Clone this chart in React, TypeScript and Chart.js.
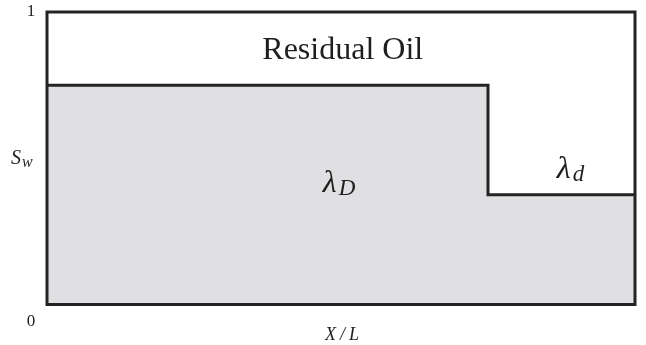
import React, { useEffect, useRef } from "react";
import { Chart, registerables } from "chart.js";

Chart.register(...registerables);

// Water saturation profile along the core (normalised length X/L)
const positions = [0, 0.75, 1];
const saturation = [0.75, 0.375, 0.375];
const axisTicks = ["0", "1"];

const INK = "#232323";
const FILL = "#e0e0e2";
const SERIF = '"Liberation Serif", "Times New Roman", serif';

const labelsPlugin = {
  id: "profileLabels",
  afterDatasetsDraw(chart: any) {
    const { ctx, chartArea: ca, scales } = chart;
    const xs = scales.x;
    const ys = scales.y;
    ctx.save();

    // frame around the plot area
    ctx.strokeStyle = INK;
    ctx.lineWidth = 3;
    ctx.strokeRect(ca.left, ca.top, ca.right - ca.left, ca.bottom - ca.top);

    ctx.fillStyle = "#1e1e1e";
    ctx.textBaseline = "alphabetic";

    // y-axis end labels
    ctx.font = `17px ${SERIF}`;
    ctx.textAlign = "center";
    ctx.fillText(axisTicks[1], ca.left - 16, ys.getPixelForValue(1) + 4);
    ctx.fillText(axisTicks[0], ca.left - 16, ys.getPixelForValue(0) + 21);

    // y-axis title S_w
    ctx.textAlign = "left";
    ctx.font = `italic 20px ${SERIF}`;
    const sy = ys.getPixelForValue(0.48);
    ctx.fillText("S", 11, sy);
    const sW = ctx.measureText("S").width;
    ctx.font = `italic 16px ${SERIF}`;
    ctx.fillText("w", 11 + sW + 1, sy + 3);

    // x-axis title X/L
    ctx.font = `italic 18px ${SERIF}`;
    ctx.textAlign = "center";
    (ctx as any).letterSpacing = "4px";
    ctx.fillText("X/L", xs.getPixelForValue(0.5) + 3, ys.getPixelForValue(0) + 35);
    (ctx as any).letterSpacing = "0px";

    // region labels
    ctx.font = `32px ${SERIF}`;
    ctx.textAlign = "center";
    ctx.fillText("Residual Oil", xs.getPixelForValue(0.503), ys.getPixelForValue(0.839));

    const drawLambda = (sub: string, xv: number, yv: number) => {
      const px = xs.getPixelForValue(xv);
      const py = ys.getPixelForValue(yv);
      ctx.textAlign = "left";
      ctx.font = `italic 32px ${SERIF}`;
      ctx.fillText("λ", px, py);
      const w = ctx.measureText("λ").width;
      ctx.font = `italic 23px ${SERIF}`;
      ctx.fillText(sub, px + w + 2, py + 3);
    };
    drawLambda("D", 0.469, 0.385);
    drawLambda("d", 0.867, 0.4325);

    ctx.restore();
  },
};

export default function App() {
  const canvasRef = useRef<HTMLCanvasElement | null>(null);

  useEffect(() => {
    if (!canvasRef.current) return;
    const chart = new Chart(canvasRef.current, {
      type: "line",
      data: {
        datasets: [
          {
            data: positions.map((x, i) => ({ x, y: saturation[i] })),
            stepped: "before",
            borderColor: INK,
            borderWidth: 3,
            backgroundColor: FILL,
            fill: "origin",
            pointRadius: 0,
          },
        ],
      },
      options: {
        responsive: false,
        animation: false,
        layout: { padding: { left: 47, top: 12, right: 11, bottom: 40.5 } },
        scales: {
          x: { type: "linear", min: 0, max: 1, display: false },
          y: { type: "linear", min: 0, max: 1, display: false },
        },
        plugins: { legend: { display: false }, tooltip: { enabled: false } },
      },
      plugins: [labelsPlugin],
    });
    return () => chart.destroy();
  }, []);

  return (
    <div style={{ position: "absolute", left: 0, top: 0, width: 646, height: 345, background: "#fff" }}>
      <canvas ref={canvasRef} width={646} height={345} style={{ display: "block" }} />
    </div>
  );
}
